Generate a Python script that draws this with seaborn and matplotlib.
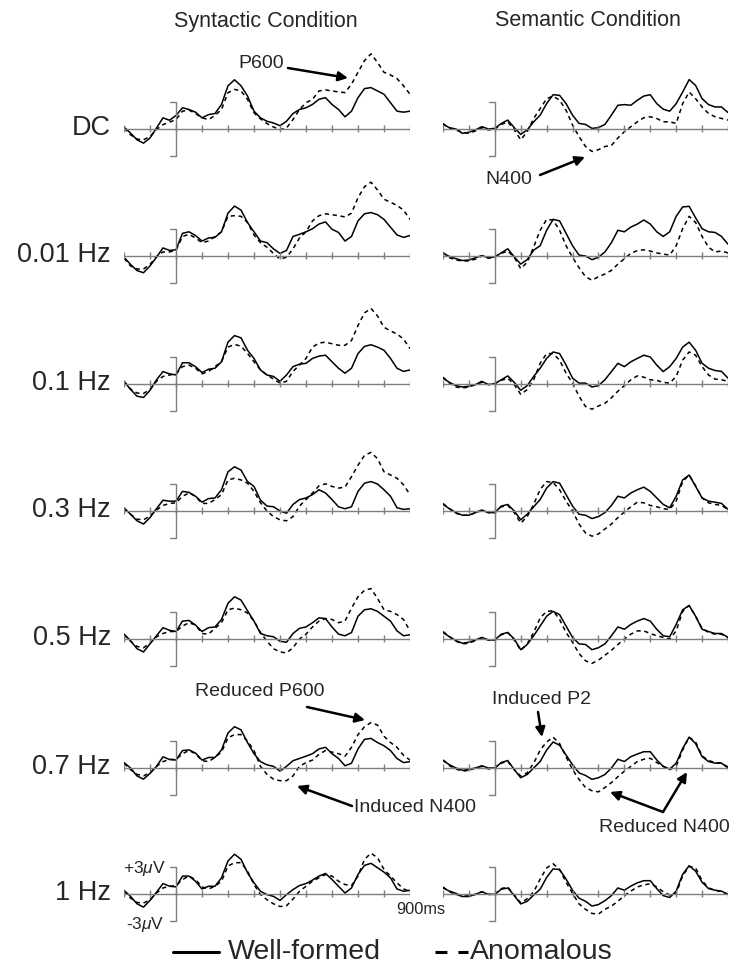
import numpy as np
import pandas as pd
import matplotlib
matplotlib.use("Agg")
import matplotlib.pyplot as plt
import seaborn as sns

# sample times (ms), one reading every 25 ms
times = np.arange(-200, 901, 25)
row_labels = ["DC", "0.01 Hz", "0.1 Hz", "0.3 Hz", "0.5 Hz", "0.7 Hz", "1 Hz"]

# amplitudes in microvolts (syn = syntactic, sem = semantic,
# wf = well-formed, an = anomalous)
syn_wf_dc = [0.22, -0.45, -1.2, -1.57, -1.0, 0.1, 1.24, 0.97, 1.5, 2.36, 2.17, 1.87, 1.24, 1.6, 1.72, 2.73, 4.8, 5.47, 4.8, 3.67, 1.98, 1.24, 0.86, 0.67, 0.37, 0.86, 1.72, 2.17, 2.36, 2.73, 3.3, 3.48, 2.73, 2.17, 1.35, 1.98, 3.48, 4.49, 4.6, 4.23, 3.86, 2.92, 1.98, 1.87, 1.98]
syn_an_dc = [0.1, -0.64, -1.12, -1.2, -0.82, -0.07, 0.49, 0.75, 1.05, 1.98, 2.1, 1.72, 1.24, 1.05, 1.5, 2.17, 4.04, 4.4, 4.23, 3.3, 1.8, 1.12, 0.6, 0.22, -0.07, 0.11, 1.05, 2.17, 2.92, 3.3, 4.23, 4.34, 4.23, 4.12, 4.04, 4.98, 6.3, 7.6, 8.35, 7.4, 6.3, 6.0, 5.6, 4.8, 3.86]
sem_wf_dc = [0.5, 0.15, 0.0, -0.48, -0.37, -0.1, 0.26, 0.0, 0.07, 0.62, 0.99, 0.15, -0.6, -0.1, 0.8, 1.54, 2.82, 3.81, 3.74, 2.82, 1.54, 0.62, 0.51, 0.07, 0.15, 0.51, 1.54, 2.64, 2.71, 2.64, 3.19, 3.66, 3.81, 2.82, 2.2, 1.98, 2.82, 4.1, 5.49, 4.84, 3.37, 2.71, 2.45, 2.45, 1.83]
sem_an_dc = [0.62, 0.07, -0.1, -0.37, -0.48, -0.22, 0.15, -0.1, 0.0, 0.5, 0.8, -0.1, -1.2, -0.3, 1.17, 2.27, 3.37, 3.66, 3.19, 2.09, 0.44, -0.84, -1.94, -2.5, -2.3, -1.94, -1.83, -1.0, -0.3, 0.26, 0.8, 1.25, 1.36, 1.17, 0.8, 0.8, 0.62, 2.82, 4.1, 3.37, 2.45, 1.72, 1.36, 1.17, 0.99]

syn_wf_001 = [-0.14, -0.93, -1.62, -1.86, -1.1, -0.14, 0.9, 0.62, 0.69, 2.52, 2.69, 2.28, 1.66, 2.0, 2.07, 2.69, 4.76, 5.55, 5.1, 3.72, 2.69, 1.66, 1.48, 0.79, 0.28, 0.62, 2.17, 2.41, 2.69, 3.03, 3.55, 3.79, 2.97, 2.62, 1.66, 2.17, 3.9, 4.69, 4.83, 4.59, 4.07, 3.2, 2.34, 2.07, 2.28]
syn_an_001 = [-0.24, -1.1, -1.45, -1.45, -0.93, -0.07, 0.45, 0.45, 0.62, 2.17, 2.41, 2.0, 1.48, 1.66, 2.17, 2.69, 4.41, 4.48, 4.41, 3.72, 2.34, 1.48, 0.97, 0.28, -0.34, -0.14, 0.79, 2.0, 2.69, 3.9, 4.48, 4.69, 4.59, 4.48, 4.34, 4.76, 6.48, 7.69, 8.2, 7.34, 6.31, 5.97, 5.62, 5.1, 4.07]
sem_wf_001 = [0.3, -0.05, -0.3, -0.5, -0.45, -0.2, 0.05, -0.2, -0.1, 0.35, 0.8, -0.1, -0.9, -0.4, 0.65, 1.14, 2.86, 4.07, 3.9, 2.52, 1.14, 0.1, 0.0, -0.41, -0.14, 0.45, 1.48, 2.86, 2.69, 3.21, 3.55, 4.0, 3.55, 2.69, 2.17, 2.69, 4.41, 5.45, 5.52, 4.24, 3.03, 2.69, 2.62, 2.17, 1.31]
sem_an_001 = [0.4, -0.2, -0.45, -0.55, -0.55, -0.35, 0.0, -0.25, -0.1, 0.3, 0.55, -0.15, -1.4, -0.7, 1.0, 2.86, 4.07, 4.0, 2.86, 1.14, -0.14, -1.3, -2.3, -2.7, -2.3, -2.0, -1.6, -0.9, -0.3, 0.3, 0.6, 0.69, 0.55, 0.34, 0.21, 0.1, 1.14, 3.03, 4.41, 3.72, 2.17, 0.97, 0.45, 0.55, 0.34]

syn_wf_01 = [0.3, -0.6, -1.35, -1.5, -0.7, 0.47, 1.38, 1.13, 1.0, 2.36, 2.36, 1.93, 1.27, 1.64, 1.75, 2.47, 4.65, 5.38, 5.13, 3.75, 2.84, 1.56, 1.0, 0.84, 0.3, 1.0, 1.93, 2.2, 2.3, 2.84, 3.1, 3.2, 2.47, 1.75, 1.2, 1.75, 3.38, 4.18, 4.36, 4.1, 3.75, 2.84, 1.75, 1.4, 1.56]
syn_an_01 = [0.3, -0.55, -1.0, -1.05, -0.6, 0.3, 0.84, 1.0, 1.13, 1.93, 2.1, 1.75, 1.13, 1.4, 1.93, 2.47, 4.1, 4.4, 4.2, 3.4, 2.47, 1.56, 1.0, 0.55, 0.1, 0.3, 1.4, 2.1, 2.84, 4.1, 4.55, 4.65, 4.47, 4.3, 4.3, 4.84, 6.5, 7.9, 8.4, 7.56, 6.3, 5.9, 5.56, 5.0, 3.93]
sem_wf_01 = [0.65, 0.18, -0.18, -0.33, -0.25, -0.07, 0.3, -0.07, 0.04, 0.47, 0.9, 0.18, -0.7, -0.18, 0.84, 1.75, 2.84, 3.56, 3.38, 2.1, 0.65, 0.1, 0.1, -0.33, -0.18, 0.47, 1.38, 2.3, 1.93, 2.47, 2.84, 3.2, 3.0, 2.1, 1.38, 1.93, 2.84, 4.1, 4.65, 3.75, 2.3, 1.75, 1.5, 1.4, 0.65]
sem_an_01 = [0.76, 0.1, -0.33, -0.44, -0.33, -0.07, 0.18, -0.07, 0.04, 0.4, 0.65, -0.07, -1.16, -0.62, 0.47, 2.3, 3.38, 3.38, 2.65, 1.2, 0.1, -1.35, -2.5, -2.8, -2.44, -2.15, -1.53, -0.8, -0.18, 0.47, 0.9, 0.76, 0.47, 0.4, 0.18, 0.1, 0.84, 2.65, 3.56, 3.2, 1.93, 1.0, 0.55, 0.47, 0.3]

syn_wf_03 = [0.36, -0.36, -1.09, -1.45, -0.73, 0.25, 1.2, 1.09, 1.09, 2.18, 2.07, 1.64, 0.98, 1.38, 1.45, 2.36, 4.36, 4.91, 4.55, 3.27, 2.73, 1.2, 0.55, 0.47, 0.0, -0.25, 0.73, 1.27, 1.45, 1.82, 2.36, 2.0, 1.27, 0.47, 0.25, 0.47, 2.18, 3.09, 3.27, 3.0, 2.36, 1.64, 0.36, 0.18, 0.25]
syn_an_03 = [0.25, -0.36, -0.91, -0.98, -0.55, 0.11, 0.62, 0.84, 0.91, 1.64, 2.0, 1.64, 0.84, 0.84, 1.27, 1.82, 3.45, 3.64, 3.45, 3.09, 2.18, 0.91, 0.0, -0.62, -0.98, -1.09, -0.62, 0.55, 1.27, 2.0, 2.8, 3.02, 2.73, 2.55, 2.65, 3.82, 5.09, 6.18, 6.51, 5.82, 4.36, 4.0, 3.64, 2.91, 1.82]
sem_wf_03 = [0.73, 0.25, -0.18, -0.47, -0.47, -0.18, 0.11, -0.18, -0.18, 0.55, 0.73, 0.0, -0.98, -0.36, 0.47, 1.27, 2.55, 3.27, 3.09, 1.82, 0.55, -0.36, -0.47, -0.84, -0.62, -0.18, 0.62, 1.64, 1.45, 2.0, 2.36, 2.65, 2.18, 1.45, 0.73, 0.36, 1.64, 3.45, 4.0, 2.73, 1.45, 1.09, 0.98, 0.84, 0.18]
sem_an_03 = [0.84, 0.25, -0.25, -0.47, -0.47, -0.18, 0.04, -0.18, -0.18, 0.47, 0.62, -0.18, -1.35, -0.62, 0.73, 2.4, 3.27, 3.16, 2.36, 1.09, 0.0, -1.45, -2.44, -2.8, -2.55, -2.0, -1.45, -0.73, -0.11, 0.47, 0.98, 0.91, 0.62, 0.47, 0.25, 0.18, 1.09, 3.27, 4.0, 2.8, 1.45, 0.91, 0.73, 0.62, 0.18]

syn_wf_05 = [0.54, -0.18, -1.08, -1.44, -0.54, 0.36, 1.26, 0.97, 0.83, 1.99, 2.06, 1.55, 0.83, 1.26, 1.34, 2.17, 3.97, 4.69, 4.33, 3.14, 1.99, 0.61, 0.36, 0.25, -0.25, -0.36, 0.61, 1.19, 1.34, 1.81, 2.35, 2.27, 1.34, 0.54, 0.36, 0.72, 2.53, 3.25, 3.36, 3.07, 2.53, 1.99, 0.9, 0.36, 0.47]
syn_an_05 = [0.47, -0.25, -0.83, -0.97, -0.47, 0.25, 0.61, 0.83, 0.83, 1.44, 1.81, 1.55, 0.61, 0.54, 1.19, 1.81, 3.25, 3.43, 3.25, 2.89, 1.99, 0.72, -0.25, -1.08, -1.44, -1.55, -0.97, 0.0, 0.54, 1.34, 1.99, 2.27, 2.17, 1.81, 1.99, 3.43, 4.69, 5.42, 5.6, 4.51, 3.25, 3.07, 2.71, 2.17, 0.9]
sem_wf_05 = [0.72, 0.25, -0.18, -0.47, -0.36, -0.11, 0.18, -0.11, -0.11, 0.54, 0.72, 0.0, -1.19, -0.61, 0.36, 1.44, 2.53, 3.07, 2.71, 1.44, 0.18, -0.54, -0.61, -1.19, -0.97, -0.54, 0.36, 1.34, 1.08, 1.62, 1.99, 2.27, 1.99, 1.08, 0.36, 0.25, 1.62, 3.25, 3.72, 2.53, 1.08, 0.83, 0.61, 0.61, 0.18]
sem_an_05 = [0.83, 0.25, -0.25, -0.54, -0.47, -0.18, 0.11, -0.11, -0.11, 0.47, 0.72, -0.11, -1.26, -0.54, 0.72, 2.35, 3.07, 3.14, 2.17, 0.72, -0.36, -1.62, -2.42, -2.71, -2.35, -1.81, -1.26, -0.61, 0.0, 0.54, 0.9, 0.9, 0.61, 0.36, 0.18, 0.0, 0.9, 3.07, 3.72, 2.53, 1.19, 0.72, 0.54, 0.54, 0.11]

syn_wf_07 = [0.6, 0.0, -0.88, -1.24, -0.6, 0.18, 1.24, 0.95, 0.88, 1.94, 2.01, 1.66, 0.88, 1.17, 1.17, 2.01, 3.89, 4.59, 4.24, 2.83, 1.59, 0.71, 0.35, 0.18, -0.35, 0.18, 0.81, 1.06, 1.31, 1.59, 2.12, 2.3, 1.59, 1.06, 0.25, 0.53, 2.12, 3.18, 3.29, 2.83, 2.47, 1.94, 1.06, 0.6, 0.71]
syn_an_07 = [0.53, -0.18, -0.71, -0.88, -0.53, 0.18, 0.71, 0.95, 0.95, 1.59, 1.94, 1.59, 0.81, 0.71, 1.17, 1.77, 3.36, 3.71, 3.71, 3.0, 1.94, 0.18, -0.71, -1.24, -1.41, -1.41, -0.88, 0.18, 0.6, 0.88, 1.52, 1.94, 1.77, 1.59, 1.31, 2.3, 3.71, 4.59, 5.05, 4.77, 3.53, 2.83, 2.3, 1.41, 0.88]
sem_wf_07 = [0.83, 0.36, 0.0, -0.25, -0.18, 0.0, 0.25, 0.0, 0.0, 0.61, 0.83, -0.18, -1.08, -0.72, 0.0, 0.72, 1.99, 2.89, 2.53, 1.44, 0.36, -0.54, -0.83, -1.26, -1.08, -0.72, 0.0, 0.97, 0.72, 1.26, 1.55, 1.81, 1.81, 0.9, 0.18, -0.11, 0.54, 2.17, 3.43, 2.71, 1.26, 0.72, 0.54, 0.54, 0.0]
sem_an_07 = [0.9, 0.25, -0.11, -0.36, -0.25, 0.0, 0.18, -0.11, 0.0, 0.54, 0.72, -0.18, -0.9, -0.54, 0.54, 1.99, 2.89, 3.43, 2.71, 1.26, -0.18, -1.26, -2.17, -2.53, -2.65, -2.17, -1.62, -0.97, -0.36, 0.18, 0.72, 0.97, 1.08, 0.61, 0.18, -0.18, 0.18, 1.99, 3.43, 2.89, 1.34, 0.83, 0.61, 0.54, 0.11]

syn_wf_1 = [0.41, -0.26, -1.09, -1.46, -0.71, 0.19, 1.16, 0.86, 0.79, 1.99, 1.99, 1.42, 0.56, 0.86, 0.86, 1.8, 3.67, 4.42, 3.86, 2.36, 1.24, 0.3, -0.07, -0.26, -0.71, -0.07, 0.49, 0.94, 1.16, 1.54, 1.99, 2.28, 1.61, 0.86, 0.11, 0.67, 2.17, 3.18, 3.41, 2.92, 2.43, 1.8, 0.56, 0.3, 0.41]
syn_an_1 = [0.3, -0.45, -0.94, -1.01, -0.64, 0.11, 0.67, 0.86, 0.94, 1.61, 1.99, 1.61, 0.79, 0.56, 0.86, 1.42, 3.11, 3.48, 3.48, 2.55, 1.05, -0.07, -0.64, -1.09, -1.39, -1.31, -0.56, 0.3, 0.86, 1.42, 1.8, 2.17, 1.99, 1.42, 1.05, 0.94, 1.99, 3.86, 4.53, 4.04, 2.73, 1.99, 1.24, 0.56, 0.3]
sem_wf_1 = [0.67, 0.32, 0.07, -0.28, -0.28, -0.04, 0.25, -0.04, -0.04, 0.53, 0.67, -0.18, -1.1, -0.81, -0.11, 0.53, 1.84, 2.79, 2.72, 1.66, 0.42, -0.46, -0.81, -1.34, -1.17, -0.74, -0.18, 0.67, 0.42, 0.88, 1.24, 1.48, 1.48, 0.6, -0.18, -0.39, 0.32, 2.19, 3.14, 2.54, 1.31, 0.6, 0.42, 0.32, -0.04]
sem_an_1 = [0.78, 0.25, -0.04, -0.28, -0.18, -0.04, 0.25, -0.04, -0.04, 0.6, 0.78, -0.11, -0.99, -0.53, 0.25, 1.66, 2.9, 3.36, 2.72, 1.31, 0.07, -1.1, -1.7, -2.16, -2.23, -1.7, -1.34, -0.81, -0.18, 0.32, 0.78, 1.02, 1.13, 0.78, 0.25, -0.11, 0.07, 2.01, 3.07, 2.9, 1.48, 0.67, 0.42, 0.25, -0.04]

rows = [
    (syn_wf_dc, syn_an_dc, sem_wf_dc, sem_an_dc),
    (syn_wf_001, syn_an_001, sem_wf_001, sem_an_001),
    (syn_wf_01, syn_an_01, sem_wf_01, sem_an_01),
    (syn_wf_03, syn_an_03, sem_wf_03, sem_an_03),
    (syn_wf_05, syn_an_05, sem_wf_05, sem_an_05),
    (syn_wf_07, syn_an_07, sem_wf_07, sem_an_07),
    (syn_wf_1, syn_an_1, sem_wf_1, sem_an_1),
]

sns.set_style("white")
plt.rcParams["font.family"] = ["Liberation Sans", "DejaVu Sans"]
plt.rcParams["mathtext.fontset"] = "custom"
plt.rcParams["mathtext.it"] = "Liberation Sans:italic"
plt.rcParams["mathtext.rm"] = "Liberation Sans"

W, H = 736, 971
fig = plt.figure(figsize=(W / 100, H / 100), dpi=100)

UV_PX = 9.0          # pixels per microvolt
baselines = [129, 256, 384, 511, 639, 768, 894]
col_left = [124, 443]
col_width = [286, 285]
GREY = "#7f7f7f"


def make_panel(x0, width, base):
    ax = fig.add_axes([x0 / W, (H - base - 4 * UV_PX) / H, width / W, 13 * UV_PX / H])
    return ax


for i, (swf, san, mwf, man) in enumerate(rows):
    for j, (wf, an) in enumerate([(swf, san), (mwf, man)]):
        ax = make_panel(col_left[j], col_width[j], baselines[i])
        df = pd.DataFrame({"time": times, "Well-formed": wf, "Anomalous": an})
        df = df.melt("time", var_name="condition", value_name="uv")
        sns.lineplot(data=df, x="time", y="uv", style="condition",
                     style_order=["Well-formed", "Anomalous"],
                     dashes={"Well-formed": "", "Anomalous": (2.8, 2.4)},
                     color="black", lw=1.1, estimator=None, legend=False, ax=ax)
        # baseline with 100 ms ticks and the +/-3 uV bracket at onset
        ax.plot([-200, 900], [0, 0], color=GREY, lw=1.0)
        ax.vlines(np.arange(-200, 901, 100), -0.3, 0.4, color=GREY, lw=1.0)
        ax.plot([-24, 0, 0, -24], [3, 3, -3, -3], color=GREY, lw=1.0)
        ax.set_xlim(-200, 900)
        ax.set_ylim(-4, 9)
        ax.axis("off")

# overlay in pixel coordinates for text and arrows
ov = fig.add_axes([0, 0, 1, 1])
ov.set_xlim(0, W)
ov.set_ylim(H, 0)
ov.axis("off")

ov.text(266, 21, "Syntactic Condition", ha="center", va="center", fontsize=15.5)
ov.text(588, 21, "Semantic Condition", ha="center", va="center", fontsize=15.5)

for lab, base in zip(row_labels, baselines):
    ov.text(111, base - 1, lab, ha="right", va="center", fontsize=19.5)

arrow = dict(arrowstyle="-|>", lw=1.8, color="black", mutation_scale=14,
             shrinkA=0, shrinkB=0)
ann_size = 14
ov.text(261, 63, "P600", ha="center", va="center", fontsize=ann_size)
ov.annotate("", xy=(348, 78), xytext=(288, 68), arrowprops=arrow)
ov.text(509, 179, "N400", ha="center", va="center", fontsize=ann_size)
ov.annotate("", xy=(585, 157), xytext=(540, 175), arrowprops=arrow)

ov.text(260, 692, "Reduced P600", ha="center", va="center", fontsize=ann_size)
ov.annotate("", xy=(365, 720), xytext=(307, 707), arrowprops=arrow)
ov.text(415, 808, "Induced N400", ha="center", va="center", fontsize=ann_size)
ov.annotate("", xy=(297, 786), xytext=(352, 806), arrowprops=arrow)
ov.text(542, 700, "Induced P2", ha="center", va="center", fontsize=ann_size)
ov.annotate("", xy=(542, 737), xytext=(538, 712), arrowprops=arrow)
ov.text(664, 828, "Reduced N400", ha="center", va="center", fontsize=ann_size)
ov.annotate("", xy=(610, 792), xytext=(663, 812), arrowprops=arrow)
ov.annotate("", xy=(687, 772), xytext=(663, 812), arrowprops=arrow)

# amplitude and time scale labels on the last row
ov.text(166, baselines[-1] - 26, "+3$\\mu$V", ha="right", va="center", fontsize=12.5)
ov.text(164, baselines[-1] + 30, "-3$\\mu$V", ha="right", va="center", fontsize=12.5)
ov.text(396, baselines[-1] + 15, "900ms", ha="left", va="center", fontsize=11.8)

# legend
ov.plot([173, 219], [952, 952], color="black", lw=2.2)
ov.text(228, 952, "Well-formed", ha="left", va="center", fontsize=20.5)
ov.plot([435, 468], [952, 952], color="black", lw=2.2, linestyle=(0, (3.9, 3.6)))
ov.text(470, 952, "Anomalous", ha="left", va="center", fontsize=20.5)

fig.savefig("out.png", dpi=100, facecolor="white")
